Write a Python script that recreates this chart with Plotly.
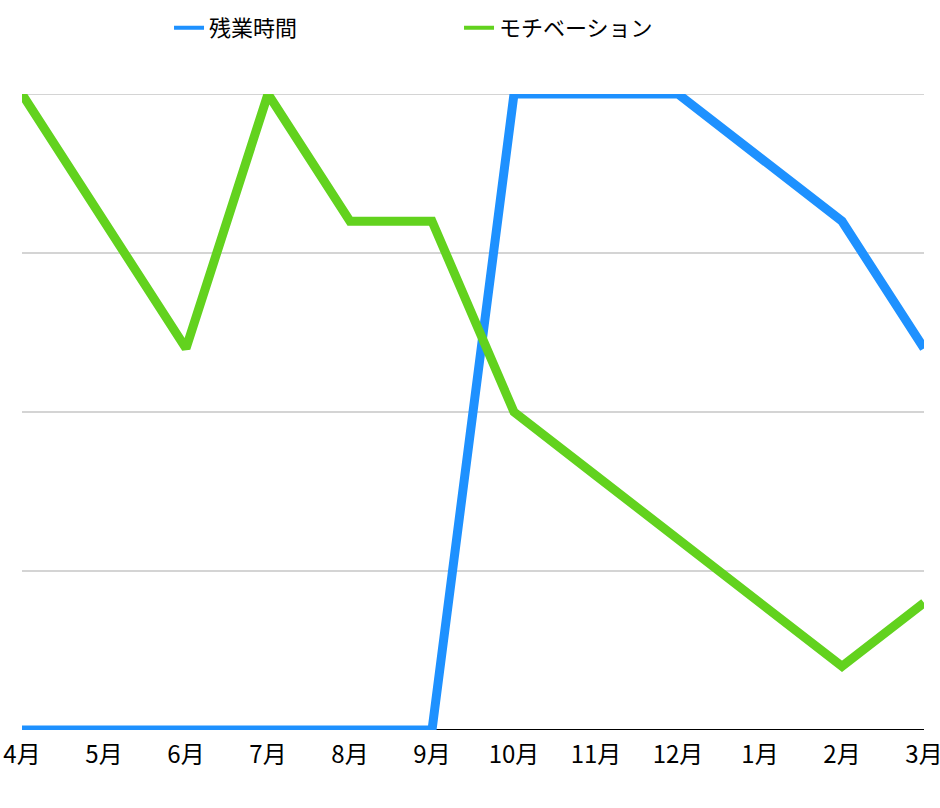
import plotly.graph_objects as go

months = ["4月", "5月", "6月", "7月", "8月", "9月", "10月", "11月", "12月", "1月", "2月", "3月"]
overtime = [0, 0, 0, 0, 0, 0, 100, 100, 100, 90, 80, 60]
motivation = [100, 80, 60, 100, 80, 80, 50, 40, 30, 20, 10, 20]
grid_values = [25, 50, 75, 100]

BLUE = "#1E91FF"
GREEN = "#62D21E"
FONT = "Noto Sans CJK JP"

fig = go.Figure()
fig.add_trace(go.Scatter(x=months, y=overtime, name="残業時間", mode="lines", showlegend=False,
                         line=dict(color=BLUE, width=9), cliponaxis=False))
fig.add_trace(go.Scatter(x=months, y=motivation, name="モチベーション", mode="lines", showlegend=False,
                         line=dict(color=GREEN, width=9), cliponaxis=False))
# legend entries with thinner keys
fig.add_trace(go.Scatter(x=[None], y=[None], name="残業時間", mode="lines",
                         line=dict(color=BLUE, width=4)))
fig.add_trace(go.Scatter(x=[None], y=[None], name="モチベーション", mode="lines",
                         line=dict(color=GREEN, width=4)))

fig.update_layout(
    width=940, height=808,
    margin=dict(l=22, r=16, t=94, b=78, autoexpand=False),
    paper_bgcolor="white", plot_bgcolor="white",
    font=dict(family=FONT, size=22, color="black"),
    hovermode=False,
    legend=dict(orientation="h", x=0.4845, xanchor="center", y=1.104, yanchor="middle",
                font=dict(family=FONT, size=22), entrywidth=245, itemwidth=30),
    xaxis=dict(type="category", range=[0, 11], showgrid=False, zeroline=False,
               showline=False, ticks="", automargin=False,
               tickfont=dict(family=FONT, size=24), ticklabelstandoff=8),
    yaxis=dict(range=[0, 100], showticklabels=False, automargin=False,
               showgrid=False, zeroline=False, ticks=""),
)
for g in grid_values:
    fig.add_shape(type="line", xref="paper", yref="y", x0=0, x1=1, y0=g, y1=g,
                  line=dict(color="#A9A9A9", width=1), layer="below")
fig.add_shape(type="line", xref="paper", yref="y", x0=0, x1=1, y0=0, y1=0,
              line=dict(color="black", width=2), layer="below")

fig.write_html("out.html")
